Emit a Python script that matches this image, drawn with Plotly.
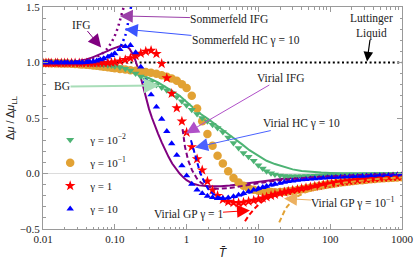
import plotly.graph_objects as go

# ---------------- data ----------------
T_pts = [0.01, 0.011, 0.012, 0.013, 0.015, 0.016, 0.018, 0.02, 0.022, 0.025, 0.028, 0.032, 0.035, 0.04, 0.045, 0.05, 0.056, 0.063, 0.07, 0.08, 0.09, 0.1,
         0.118, 0.14, 0.165, 0.195, 0.23, 0.27, 0.32, 0.38, 0.45, 0.53, 0.62, 0.73, 0.86, 1.0, 1.18, 1.4, 1.65, 1.95, 2.3, 2.7, 3.2, 3.8, 4.5, 5.3, 6.2, 7.3, 8.6,
         10, 11.5, 13, 15, 17, 20, 23, 26, 30, 35, 40, 46, 53, 61, 70, 80, 92, 105, 120, 140, 160, 185, 210, 240, 280, 320, 370, 420, 490, 560, 650, 750, 860, 1000]

gamma_001 = [1.0, 1.0, 1.0, 1.0, 1.0, 1.0, 1.0, 1.0, 1.0, 0.999, 0.998, 0.997, 0.996, 0.994, 0.992, 0.99, 0.987, 0.984, 0.98, 0.976, 0.972, 0.967,
             0.957, 0.943, 0.927, 0.902, 0.875, 0.85, 0.825, 0.798, 0.775, 0.75, 0.72, 0.69, 0.65, 0.615, 0.575, 0.535, 0.5, 0.47, 0.44, 0.41, 0.375, 0.325, 0.275, 0.23, 0.185, 0.15, 0.115,
             0.075, 0.045, 0.02, 0.003, -0.008, -0.018, -0.022, -0.024, -0.025, -0.025, -0.024, -0.023, -0.022, -0.02, -0.019, -0.017, -0.016, -0.015, -0.013, -0.012, -0.011, -0.01, -0.009, -0.008, -0.007, -0.006, -0.006, -0.005, -0.005, -0.004, -0.004, -0.003, -0.003, -0.003]

gamma_01 = [0.995, 0.995, 0.995, 0.994, 0.994, 0.993, 0.992, 0.991, 0.99, 0.989, 0.987, 0.985, 0.983, 0.98, 0.977, 0.974, 0.97, 0.966, 0.962, 0.957, 0.952, 0.948,
            0.941, 0.936, 0.931, 0.926, 0.921, 0.915, 0.907, 0.898, 0.886, 0.872, 0.856, 0.835, 0.805, 0.77, 0.7, 0.585, 0.47, 0.355, 0.25, 0.16, 0.09, 0.02, -0.04, -0.08, -0.11, -0.132, -0.147,
            -0.155, -0.16, -0.164, -0.167, -0.168, -0.167, -0.164, -0.16, -0.155, -0.148, -0.142, -0.135, -0.128, -0.12, -0.113, -0.106, -0.1, -0.094, -0.088, -0.082, -0.077, -0.072, -0.068, -0.064, -0.06, -0.056, -0.052, -0.049, -0.046, -0.043, -0.04, -0.038, -0.036, -0.034]

gamma_1 = [0.995, 0.995, 0.995, 0.995, 0.995, 0.995, 0.995, 0.995, 0.995, 0.995, 0.995, 0.995, 0.995, 0.995, 0.995, 0.995, 0.995, 0.996, 0.996, 0.997, 1.0, 1.003,
           1.012, 1.024, 1.04, 1.06, 1.082, 1.1, 1.108, 1.078, 0.99, 0.86, 0.72, 0.59, 0.47, 0.37, 0.24, 0.13, 0.03, -0.07, -0.15, -0.2, -0.235, -0.255, -0.263, -0.265, -0.26, -0.252, -0.242,
           -0.232, -0.222, -0.212, -0.2, -0.19, -0.177, -0.168, -0.16, -0.152, -0.144, -0.137, -0.13, -0.123, -0.116, -0.109, -0.102, -0.095, -0.089, -0.083, -0.077, -0.072, -0.067, -0.062, -0.058, -0.054, -0.05, -0.046, -0.043, -0.04, -0.037, -0.034, -0.031, -0.029, -0.027]

gamma_10 = [1.0, 1.0, 1.0, 1.0, 1.0, 1.0, 1.0, 1.0, 1.0, 1.0, 1.0, 1.0, 1.0, 1.002, 1.005, 1.009, 1.015, 1.025, 1.035, 1.05, 1.065, 1.08,
            1.118, 1.145, 1.155, 1.09, 0.96, 0.83, 0.71, 0.6, 0.49, 0.38, 0.27, 0.165, 0.07, -0.02, -0.095, -0.148, -0.18, -0.203, -0.216, -0.223, -0.224, -0.218, -0.207, -0.193, -0.178, -0.163, -0.148,
            -0.135, -0.124, -0.114, -0.103, -0.095, -0.086, -0.078, -0.072, -0.066, -0.06, -0.056, -0.052, -0.048, -0.045, -0.042, -0.04, -0.037, -0.035, -0.033, -0.031, -0.029, -0.027, -0.026, -0.024, -0.023, -0.021, -0.02, -0.019, -0.018, -0.017, -0.016, -0.015, -0.014, -0.013]

T_bg = [0.01, 0.02, 0.03, 0.04, 0.05, 0.06, 0.07, 0.08, 0.1, 0.12, 0.15, 0.2, 0.25, 0.3, 0.4, 0.5, 0.6, 0.7, 0.8, 1.0, 1.2, 1.5, 2, 2.5, 3, 4, 5, 6, 7.5, 10, 13, 17, 22, 30, 40, 55, 75, 100, 150, 200, 300, 500, 1000]
bg = [1.0, 1.0, 1.0, 0.998, 0.995, 0.99, 0.985, 0.978, 0.965, 0.952, 0.935, 0.905, 0.88, 0.86, 0.82, 0.785, 0.755, 0.725, 0.7, 0.645, 0.6, 0.545, 0.49, 0.44, 0.405, 0.345, 0.3, 0.26, 0.21, 0.16, 0.115, 0.085, 0.06, 0.037, 0.023, 0.013, 0.008, 0.005, 0.002, 0.001, 0.0, 0.0, 0.0]

T_ifg = [0.01, 0.02, 0.025, 0.03, 0.04, 0.05, 0.06, 0.07, 0.08, 0.09, 0.1, 0.11, 0.12, 0.13, 0.14, 0.15, 0.16, 0.17, 0.18, 0.19, 0.2, 0.22, 0.24, 0.26, 0.28, 0.3, 0.33, 0.36, 0.4, 0.45, 0.5, 0.56, 0.63, 0.7, 0.8, 0.9, 1.0, 1.2, 1.5, 2, 2.5, 3, 4, 5, 6, 8, 10, 13, 17, 22, 30, 45, 65, 100, 150, 250, 400, 650, 1000]
ifg = [1.0, 1.002, 1.006, 1.012, 1.028, 1.048, 1.068, 1.088, 1.105, 1.12, 1.132, 1.142, 1.148, 1.15, 1.148, 1.14, 1.125, 1.1, 1.07, 1.035, 0.995, 0.91, 0.82, 0.73, 0.65, 0.58, 0.5, 0.43, 0.36, 0.28, 0.21, 0.15, 0.09, 0.045, 0.0, -0.035, -0.06, -0.09, -0.107, -0.115, -0.117, -0.115, -0.108, -0.1, -0.093, -0.082, -0.073, -0.063, -0.055, -0.047, -0.04, -0.032, -0.026, -0.02, -0.016, -0.012, -0.009, -0.007, -0.005]

T_som_ifg = [0.01, 0.02, 0.03, 0.04, 0.05, 0.06, 0.07, 0.08, 0.09, 0.1, 0.11, 0.12, 0.13, 0.14]
som_ifg = [1.0, 1.004, 1.01, 1.022, 1.04, 1.06, 1.09, 1.13, 1.18, 1.24, 1.31, 1.39, 1.47, 1.55]

T_som_hc = [0.01, 0.02, 0.03, 0.04, 0.05, 0.06, 0.07, 0.08, 0.09, 0.1, 0.11, 0.12, 0.13, 0.14, 0.15, 0.16, 0.17, 0.18]
som_hc = [1.0, 1.003, 1.007, 1.013, 1.02, 1.03, 1.042, 1.056, 1.072, 1.09, 1.11, 1.14, 1.185, 1.24, 1.33, 1.42, 1.51, 1.6]

T_vir_ifg = [0.88, 0.95, 1.05, 1.19, 1.39, 1.6, 1.8, 2.05, 2.3, 2.7, 3.2, 4, 5, 7, 10, 15, 22, 35, 60, 100, 200, 400, 1000]
vir_ifg = [0.4, 0.24, 0.12, 0.03, -0.045, -0.085, -0.105, -0.122, -0.132, -0.138, -0.137, -0.13, -0.12, -0.103, -0.087, -0.07, -0.057, -0.044, -0.033, -0.025, -0.016, -0.01, -0.005]

T_vir_hc = [1.15, 1.23, 1.32, 1.42, 1.54, 1.65, 1.8, 2.0, 2.3, 2.7, 3.2, 4, 5, 6.5, 8.5, 12, 17, 25, 40, 70, 120, 250, 500, 1000]
vir_hc = [0.3, 0.225, 0.16, 0.09, 0.01, -0.04, -0.09, -0.14, -0.18, -0.21, -0.225, -0.225, -0.21, -0.185, -0.16, -0.13, -0.1, -0.075, -0.055, -0.042, -0.033, -0.024, -0.018, -0.014]

T_vir_gp1 = [6.5, 7.5, 9, 10.5, 13, 16, 20, 28, 40, 60, 100, 160, 250, 400, 650, 1000]
vir_gp1 = [-0.43, -0.37, -0.31, -0.27, -0.225, -0.2, -0.18, -0.155, -0.135, -0.112, -0.088, -0.068, -0.052, -0.04, -0.032, -0.026]

T_vir_gp01 = [19.5, 21, 23, 25, 28, 31, 35, 40, 47, 55, 70, 100, 160, 250, 400, 650, 1000]
vir_gp01 = [-0.44, -0.39, -0.34, -0.3, -0.26, -0.23, -0.205, -0.185, -0.165, -0.15, -0.13, -0.105, -0.082, -0.066, -0.052, -0.042, -0.035]

T_ref = [0.01, 1000]
ll_ref = [1.0, 1.0]

x_tickvals = [0.01, 0.1, 1, 10, 100, 1000]
x_ticktext = ["0.01", "0.10", "1", "10", "100", "1000"]
y_tickvals = [-0.5, 0.0, 0.5, 1.0, 1.5]
y_ticktext = ["\u22120.5", "0.0", "0.5", "1.0", "1.5"]

# ---------------- styles ----------------
GREEN = "#4DB374"
ORANGE = "#E2A234"
RED = "#FF0000"
BLUE = "#0000FF"
PURPLE = "#800080"
SERIF = "Liberation Serif"
PAD = "<sup>\u00a0</sup>"

fig = go.Figure()

fig.add_trace(go.Scatter(x=T_ref, y=ll_ref, mode="lines", showlegend=False,
                         line=dict(color="black", width=2, dash="2px,2.6px")))

fig.add_trace(go.Scatter(x=T_bg, y=bg, mode="lines", showlegend=False,
                         line=dict(color=GREEN, width=2)))
fig.add_trace(go.Scatter(x=T_ifg, y=ifg, mode="lines", showlegend=False,
                         line=dict(color=PURPLE, width=2)))

fig.add_trace(go.Scatter(x=T_pts, y=gamma_01, mode="markers", name="\u03b3 = 10<sup>\u22121</sup>",
                         legendrank=2, legendgroup="b",
                         marker=dict(symbol="circle", size=8.5, color=ORANGE)))
fig.add_trace(go.Scatter(x=T_pts, y=gamma_001, mode="markers", name="\u03b3 = 10<sup>\u22122</sup>",
                         legendrank=1, legendgroup="a",
                         marker=dict(symbol="triangle-down", size=7, color=GREEN)))
fig.add_trace(go.Scatter(x=T_pts, y=gamma_1, mode="markers", name="\u03b3 = 1" + PAD,
                         legendrank=3, legendgroup="c",
                         marker=dict(symbol="star", size=8, color=RED)))
fig.add_trace(go.Scatter(x=T_pts, y=gamma_10, mode="markers", name="\u03b3 = 10" + PAD,
                         legendrank=4, legendgroup="d",
                         marker=dict(symbol="triangle-up", size=6.5, color=BLUE)))

fig.add_trace(go.Scatter(x=T_som_ifg, y=som_ifg, mode="lines", showlegend=False,
                         line=dict(color=PURPLE, width=2.5, dash="2px,3.5px")))
fig.add_trace(go.Scatter(x=T_som_hc, y=som_hc, mode="lines", showlegend=False,
                         line=dict(color=BLUE, width=2.5, dash="2px,3.5px")))
fig.add_trace(go.Scatter(x=T_vir_ifg, y=vir_ifg, mode="lines", showlegend=False,
                         line=dict(color=PURPLE, width=2, dash="5px,3px")))
fig.add_trace(go.Scatter(x=T_vir_hc, y=vir_hc, mode="lines", showlegend=False,
                         line=dict(color=BLUE, width=2, dash="5px,3px")))
fig.add_trace(go.Scatter(x=T_vir_gp1, y=vir_gp1, mode="lines", showlegend=False,
                         line=dict(color=RED, width=2, dash="5px,3px")))
fig.add_trace(go.Scatter(x=T_vir_gp01, y=vir_gp01, mode="lines", showlegend=False,
                         line=dict(color=ORANGE, width=2, dash="5px,3px")))

# ---------------- labelled arrows (x in log10 units) ----------------
anno_font = dict(family=SERIF, size=11.5, color="#222")

def pointer(tip, text_center, text, color, width=1.0, size=2.6):
    fig.add_annotation(x=tip[0], y=tip[1], ax=text_center[0], ay=text_center[1],
                       xref="x", yref="y", axref="x", ayref="y", text=text, font=anno_font,
                       showarrow=True, arrowhead=2, arrowsize=size, arrowwidth=width,
                       arrowcolor=color, standoff=0, startstandoff=0, borderpad=0)

pointer((-0.93, 1.42), (0.597, 1.396), "Sommerfeld IFG", "#9A3FA8")
pointer((-0.86, 1.30), (0.827, 1.198), "Sommerfeld HC \u03b3 = 10", "#3A55FF")
pointer((-1.19, 1.135), (-1.457, 1.342), "IFG", PURPLE)
pointer((-0.385, 0.793), (-1.735, 0.784), "BG", "#A8DDB8", width=2, size=1.5)
pointer((-0.01, 0.36), (1.308, 0.856), "Virial IFG", "#B050C8")
pointer((0.117, 0.234), (1.607, 0.45), "Virial HC \u03b3 = 10", "#4A62FF")
pointer((0.883, -0.333), (0.02, -0.369), "Virial GP \u03b3 = 1", RED)
pointer((1.357, -0.225), (2.324, -0.261), "Virial GP \u03b3 = 10<sup>\u22121</sup>", "#ECB060")
pointer((2.513, 1.01), (2.582, 1.333), "Luttinger<br>Liquid", "black", width=1.2, size=1.6)

# ---------------- axes ----------------
frame = "#9a9a9a"
minor_x = [k * 10 ** d for d in range(-2, 3) for k in range(2, 10)]

fig.update_xaxes(type="log", range=[-2, 3], showline=True, linecolor=frame, linewidth=1,
                 mirror="allticks", ticks="inside", ticklen=5, tickcolor=frame,
                 tickvals=x_tickvals, ticktext=x_ticktext, showgrid=False, zeroline=False,
                 automargin=False,
                 tickfont=dict(family=SERIF, size=11, color="#222"),
                 minor=dict(tickvals=minor_x, ticks="inside", ticklen=2.5, tickcolor=frame, showgrid=False),
                 title=dict(text="<i>T\u0304</i>", font=dict(family="Liberation Sans", size=12, color="#222"),
                            standoff=4))
fig.update_yaxes(range=[-0.5, 1.5], showline=True, linecolor=frame, linewidth=1,
                 mirror="allticks", ticks="inside", ticklen=5, tickcolor=frame,
                 tickvals=y_tickvals, ticktext=y_ticktext, showgrid=False,
                 zeroline=True, zerolinecolor="#dcdcdc", zerolinewidth=1,
                 automargin=False,
                 tickfont=dict(family=SERIF, size=11, color="#222"),
                 minor=dict(dtick=0.1, ticks="inside", ticklen=2.5, tickcolor=frame, showgrid=False),
                 title=dict(text="\u0394<i>\u03bc</i> / \u0394<i>\u03bc</i><sub>LL</sub>",
                            font=dict(family="Liberation Sans", size=11, color="#222"), standoff=2))

fig.update_layout(
    width=415, height=263,
    margin=dict(l=43, r=13, t=7, b=34, autoexpand=False),
    paper_bgcolor="white", plot_bgcolor="white",
    showlegend=True,
    legend=dict(x=0.02, y=0.467, xanchor="left", yanchor="top", bgcolor="rgba(0,0,0,0)",
                font=dict(family=SERIF, size=11, color="#222"), traceorder="grouped",
                tracegroupgap=4, itemwidth=30),
)

fig.write_html("out.html", config={"displayModeBar": False},
               post_script="document.body.style.margin='0';")
